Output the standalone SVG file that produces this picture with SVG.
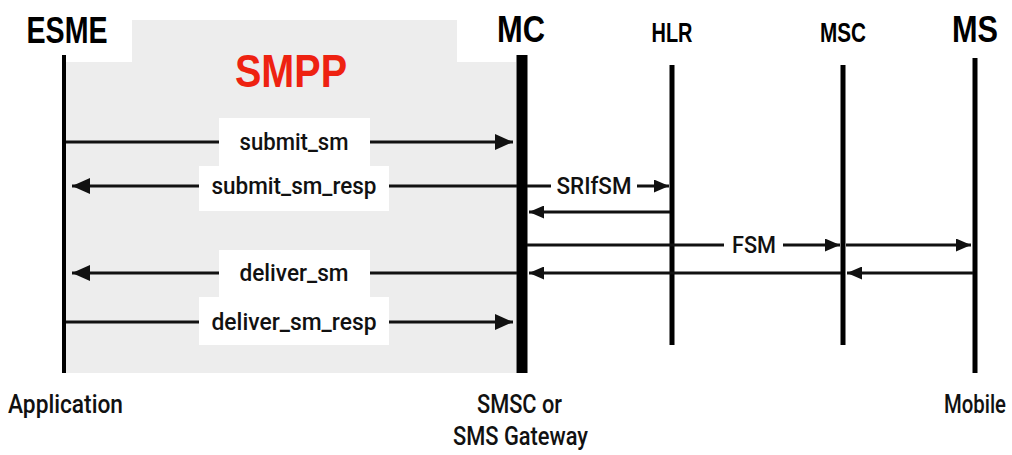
<svg xmlns="http://www.w3.org/2000/svg" width="1012" height="455" viewBox="0 0 1012 455">
  <style>
    .head { font-family: "Liberation Sans", Arial, sans-serif; font-weight: bold; fill: #000; text-anchor: middle; }
    .msg { font-family: Roboto, "Liberation Sans", sans-serif; font-weight: 500; font-size: 23px; fill: #111; text-anchor: middle; }
    .foot { font-family: Roboto, "Liberation Sans", sans-serif; font-weight: 500; font-size: 25px; fill: #111; }
    .life { stroke: #000; fill: none; }
    .arrow { stroke: #111; stroke-width: 3; fill: none; }
    .big { marker-end: url(#headBig); }
    .small { marker-end: url(#headSmall); }
    .lbl { fill: #fff; }
  </style>
  <defs>
    <marker id="headBig" viewBox="0 0 18 16" refX="18" refY="8" markerWidth="18" markerHeight="16" markerUnits="userSpaceOnUse" orient="auto">
      <path d="M0,0 L18,8 L0,16 z" fill="#111"/>
    </marker>
    <marker id="headSmall" viewBox="0 0 15 13" refX="15" refY="6.5" markerWidth="15" markerHeight="13" markerUnits="userSpaceOnUse" orient="auto">
      <path d="M0,0 L15,6.5 L0,13 z" fill="#111"/>
    </marker>
  </defs>

  <rect width="1012" height="455" fill="#fff"/>

  <!-- SMPP protocol zone between the application and the message centre -->
  <g id="smpp-zone">
    <path d="M132,20 H457 V62 H516 V373 H66 V62 H132 z" fill="#ededed"/>
    <text class="head" x="291" y="87" font-size="47" textLength="112" lengthAdjust="spacingAndGlyphs" style="fill:#ee2211">SMPP</text>
  </g>

  <!-- Lifelines -->
  <g id="esme">
    <line class="life" x1="64" y1="55" x2="64" y2="373" stroke-width="4"/>
    <text class="head" x="67" y="43" font-size="37" textLength="81" lengthAdjust="spacingAndGlyphs">ESME</text>
    <text class="foot" x="8" y="413" textLength="115" lengthAdjust="spacingAndGlyphs">Application</text>
  </g>
  <g id="mc">
    <line class="life" x1="522" y1="55" x2="522" y2="373" stroke-width="11"/>
    <text class="head" x="521" y="42" font-size="37" textLength="48" lengthAdjust="spacingAndGlyphs">MC</text>
    <text class="foot" x="477" y="413" textLength="85" lengthAdjust="spacingAndGlyphs">SMSC or</text>
    <text class="foot" x="453" y="445" textLength="135" lengthAdjust="spacingAndGlyphs">SMS Gateway</text>
  </g>
  <g id="hlr">
    <line class="life" x1="672" y1="65" x2="672" y2="345" stroke-width="5"/>
    <text class="head" x="672" y="42" font-size="27" textLength="41" lengthAdjust="spacingAndGlyphs">HLR</text>
  </g>
  <g id="msc">
    <line class="life" x1="843" y1="65" x2="843" y2="345" stroke-width="5"/>
    <text class="head" x="843" y="42" font-size="27" textLength="46" lengthAdjust="spacingAndGlyphs">MSC</text>
  </g>
  <g id="ms">
    <line class="life" x1="975" y1="58" x2="975" y2="373" stroke-width="5"/>
    <text class="head" x="975" y="42" font-size="37" textLength="46" lengthAdjust="spacingAndGlyphs">MS</text>
    <text class="foot" x="975" y="413" text-anchor="middle" font-size="24" textLength="62" lengthAdjust="spacingAndGlyphs">Mobile</text>
  </g>

  <!-- Message flows -->
  <g id="connectors">
    <!-- submit_sm -->
    <line class="arrow big" x1="66" y1="142" x2="513" y2="142"/>
    <rect class="lbl" x="219" y="118" width="151" height="48"/>
    <text class="msg" x="294" y="150" textLength="109" lengthAdjust="spacingAndGlyphs">submit_sm</text>

    <!-- submit_sm_resp -->
    <line class="arrow big" x1="517" y1="186" x2="72" y2="186"/>
    <rect class="lbl" x="199" y="166" width="190" height="45"/>
    <text class="msg" x="294" y="194" textLength="165" lengthAdjust="spacingAndGlyphs">submit_sm_resp</text>

    <!-- SRIfSM to HLR and its reply -->
    <line class="arrow small" x1="527" y1="186" x2="669" y2="186"/>
    <rect class="lbl" x="551" y="174" width="86" height="24"/>
    <text class="msg" x="594" y="194" textLength="75" lengthAdjust="spacingAndGlyphs">SRIfSM</text>
    <line class="arrow small" x1="670" y1="212" x2="529" y2="212"/>

    <!-- FSM towards the mobile -->
    <line class="arrow small" x1="527" y1="245" x2="840" y2="245"/>
    <rect class="lbl" x="724" y="233" width="59" height="24"/>
    <text class="msg" x="754" y="253" textLength="44" lengthAdjust="spacingAndGlyphs">FSM</text>
    <line class="arrow small" x1="846" y1="245" x2="971" y2="245"/>

    <!-- delivery from the mobile back to the MC -->
    <line class="arrow small" x1="973" y1="273" x2="847" y2="273"/>
    <line class="arrow small" x1="841" y1="273" x2="529" y2="273"/>

    <!-- deliver_sm -->
    <line class="arrow big" x1="517" y1="273" x2="72" y2="273"/>
    <rect class="lbl" x="219" y="250" width="151" height="47"/>
    <text class="msg" x="294" y="281" textLength="109" lengthAdjust="spacingAndGlyphs">deliver_sm</text>

    <!-- deliver_sm_resp -->
    <line class="arrow big" x1="66" y1="322" x2="513" y2="322"/>
    <rect class="lbl" x="199" y="297" width="190" height="48"/>
    <text class="msg" x="294" y="330" textLength="165" lengthAdjust="spacingAndGlyphs">deliver_sm_resp</text>
  </g>
</svg>
